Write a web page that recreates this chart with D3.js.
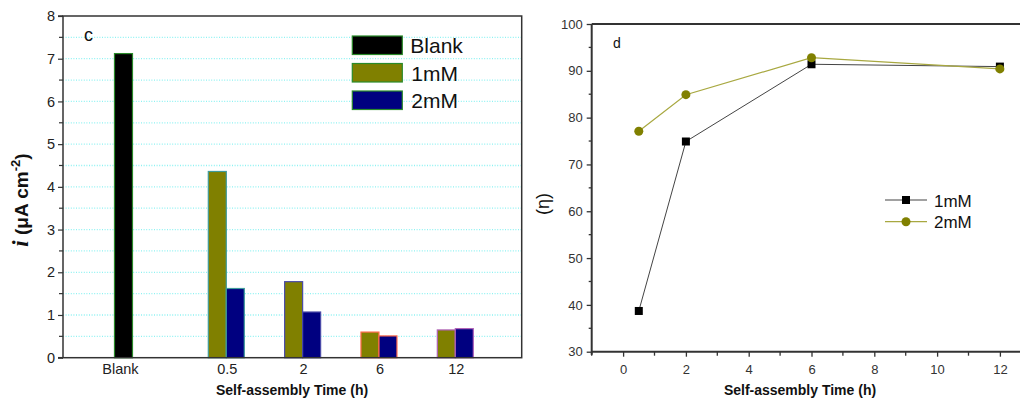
<!DOCTYPE html>
<html>
<head>
<meta charset="utf-8">
<script src="https://cdn.jsdelivr.net/npm/d3@7"></script>
<style>
  body { margin: 0; background: #fff; }
  svg { display: block; font-family: "Liberation Sans", Arial, sans-serif; }
</style>
</head>
<body>
<svg id="chart" width="1020" height="398"></svg>
<script>
// DATA
// ========================================================================
var groups = ["Blank", "0.5", "2", "6", "12"];
var blank_values = [7.12, null, null, null, null];
var mM1_values = [null, 4.36, 1.78, 0.60, 0.65];
var mM2_values = [null, 1.62, 1.07, 0.51, 0.68];
var bar_legend = ["Blank", "1mM", "2mM"];

var hours = [0.5, 2, 6, 12];
var eta_1mM = [38.7, 74.9, 91.4, 90.9];
var eta_2mM = [77.1, 84.9, 92.8, 90.4];
var line_legend = ["1mM", "2mM"];
// ========================================================================

var svg = d3.select("#chart");
var axis_color = "#333";
var olive = "#808000", navy = "#000080";
// border colours of each bar group, as drawn in the original
var group_stroke = ["#2a8a2a", "#3f9b9b", "#4a4aa8", "#ff6a4a", "#b060b8"];

// ---------------- left panel (c) ----------------
var L = {left: 63, right: 521.7, top: 16, bottom: 357.7};
var yL = d3.scaleLinear().domain([0, 8]).range([L.bottom, L.top]);
// groups 0.5..12 are evenly spaced, Blank sits a bit further out
var blank_gap = 1.36;
var xSlot = d3.scaleLinear().domain([0, 3]).range([226.3, 455.3]);
function groupX(i) { return i === 0 ? xSlot(-blank_gap) : xSlot(i - 1); }
var barW = 18;

var left = svg.append("g");

// dotted cyan grid at every 0.5
left.append("g").selectAll("line")
  .data(d3.range(0.5, 8, 0.5)).enter().append("line")
    .attr("x1", L.left).attr("x2", L.right)
    .attr("y1", function(d) { return yL(d); }).attr("y2", function(d) { return yL(d); })
    .style("stroke", "#8ef2f2").style("stroke-width", 1.3)
    .style("stroke-dasharray", "1,1.6");

function bars(values, fill, offset) {
  left.append("g").selectAll("rect")
    .data(values.map(function(v, i) { return {v: v, i: i}; }).filter(function(d) { return d.v != null; }))
    .enter().append("rect")
      .attr("x", function(d) { return groupX(d.i) + offset; })
      .attr("y", function(d) { return yL(d.v); })
      .attr("width", barW)
      .attr("height", function(d) { return yL(0) - yL(d.v); })
      .style("fill", fill)
      .style("stroke", function(d) { return group_stroke[d.i]; })
      .style("stroke-width", 1.2);
}
bars(blank_values, "#000", -barW / 2 + 1);
bars(mM1_values, olive, -barW);
bars(mM2_values, navy, 0);

// frame
left.append("rect")
  .attr("x", L.left).attr("y", L.top)
  .attr("width", L.right - L.left).attr("height", L.bottom - L.top)
  .style("fill", "none").style("stroke", axis_color).style("stroke-width", 1.5);

var yAxisL = d3.axisLeft(yL).ticks(8).tickSize(8).tickPadding(4).tickFormat(d3.format("d"));
var gyL = left.append("g").attr("transform", "translate(" + (L.left - 5) + ",0)").call(yAxisL);
gyL.select(".domain").remove();
left.append("line").attr("x1", L.left - 5).attr("x2", L.left).attr("y1", L.bottom).attr("y2", L.bottom)
  .style("stroke", axis_color).style("stroke-width", 1.5);
left.append("line").attr("x1", L.left - 5).attr("x2", L.left).attr("y1", L.top).attr("y2", L.top)
  .style("stroke", axis_color).style("stroke-width", 1.5);
gyL.selectAll(".tick line").attr("x1", 0).attr("x2", 5).style("stroke", axis_color).style("stroke-width", 1.2);
gyL.selectAll(".tick text").attr("x", -3).style("font-size", "14.5px").style("fill", "#222")
  .style("font-family", "Liberation Sans, Arial, sans-serif");
// minor ticks
left.append("g").selectAll("line").data(d3.range(0.5, 8, 1)).enter().append("line")
  .attr("x1", L.left - 4).attr("x2", L.left)
  .attr("y1", function(d) { return yL(d); }).attr("y2", function(d) { return yL(d); })
  .style("stroke", axis_color).style("stroke-width", 1.2);

// x tick labels
left.append("g").selectAll("text").data(groups).enter().append("text")
  .attr("x", function(d, i) { return groupX(i) + (i === 0 ? -2 : 1); })
  .attr("y", 374)
  .attr("text-anchor", "middle")
  .style("font-size", "14.5px").style("fill", "#222")
  .text(function(d) { return d; });

left.append("text").attr("x", 292).attr("y", 395).attr("text-anchor", "middle")
  .style("font-size", "14px").style("font-weight", "bold").style("fill", "#111")
  .text("Self-assembly Time (h)");

var ylab = left.append("text")
  .attr("transform", "translate(28,200) rotate(-90)")
  .attr("text-anchor", "middle")
  .style("font-size", "19px").style("font-weight", "bold").style("fill", "#111");
ylab.append("tspan").style("font-style", "italic").style("font-family", "Liberation Serif, Times New Roman, serif")
  .style("font-size", "23px").text("i");
ylab.append("tspan").text(" (μA cm");
ylab.append("tspan").attr("dy", -8).style("font-size", "13px").text("-2");
ylab.append("tspan").attr("dy", 8).text(")");

left.append("text").attr("x", 84).attr("y", 41).style("font-size", "18px").style("fill", "#111").text("c");

// legend
var bar_fills = ["#000", olive, navy];
var lg = left.append("g").selectAll("g").data(bar_legend).enter().append("g")
  .attr("transform", function(d, i) { return "translate(352.3," + (36 + i * 27.5) + ")"; });
lg.append("rect").attr("width", 50).attr("height", 18.5)
  .style("fill", function(d, i) { return bar_fills[i]; })
  .style("stroke", "#2a8a2a").style("stroke-width", 1.2);
lg.append("text").attr("x", function(d, i) { return i === 0 ? 58 : 59; }).attr("y", 17)
  .style("font-size", "21px").style("fill", "#111")
  .text(function(d) { return d; });

// ---------------- right panel (d) ----------------
var R = {left: 591.7, top: 24, bottom: 351.7};
var xR = d3.scaleLinear().domain([-1, 13]).range([R.left, R.left + 14 * 31.4]);
var yR = d3.scaleLinear().domain([30, 100]).range([R.bottom, R.top]);
var right = svg.append("g");

right.append("line").attr("x1", R.left).attr("x2", 1020).attr("y1", R.top).attr("y2", R.top)
  .style("stroke", axis_color).style("stroke-width", 2);

var gxR = right.append("g").attr("transform", "translate(0," + R.bottom + ")")
  .call(d3.axisBottom(xR).tickValues(d3.range(0, 13, 2)).tickSize(5).tickPadding(8));
gxR.select(".domain").remove();
right.append("line").attr("x1", R.left).attr("x2", 1020).attr("y1", R.bottom).attr("y2", R.bottom)
  .style("stroke", axis_color).style("stroke-width", 2);
gxR.selectAll(".tick line").style("stroke", axis_color).style("stroke-width", 1.3);
gxR.selectAll(".tick text").style("font-size", "13px").style("fill", "#333")
  .style("font-family", "Liberation Sans, Arial, sans-serif");
right.append("g").selectAll("line").data(d3.range(-1, 13, 2)).enter().append("line")
  .attr("x1", function(d) { return xR(d); }).attr("x2", function(d) { return xR(d); })
  .attr("y1", R.bottom).attr("y2", R.bottom + 4)
  .style("stroke", axis_color).style("stroke-width", 1.3);

var gyR = right.append("g").attr("transform", "translate(" + R.left + ",0)")
  .call(d3.axisLeft(yR).tickValues(d3.range(30, 101, 10)).tickSize(5).tickPadding(4));
gyR.select(".domain").remove();
right.append("line").attr("x1", R.left).attr("x2", R.left).attr("y1", R.top).attr("y2", R.bottom + 3)
  .style("stroke", axis_color).style("stroke-width", 2);
gyR.selectAll(".tick line").style("stroke", axis_color).style("stroke-width", 1.3);
gyR.selectAll(".tick text").style("font-size", "13px").style("fill", "#333")
  .style("font-family", "Liberation Sans, Arial, sans-serif");
right.append("g").selectAll("line").data(d3.range(35, 100, 10)).enter().append("line")
  .attr("x1", R.left - 3).attr("x2", R.left)
  .attr("y1", function(d) { return yR(d); }).attr("y2", function(d) { return yR(d); })
  .style("stroke", axis_color).style("stroke-width", 1.3);

var line = d3.line().x(function(d) { return xR(d[0]); }).y(function(d) { return yR(d[1]); });
var s1 = d3.zip(hours, eta_1mM), s2 = d3.zip(hours, eta_2mM);

right.append("path").datum(s1).attr("d", line)
  .style("fill", "none").style("stroke", "#444").style("stroke-width", 1);
right.append("path").datum(s2).attr("d", line)
  .style("fill", "none").style("stroke", "#a8a840").style("stroke-width", 1.2);
right.append("g").selectAll("rect").data(s1).enter().append("rect")
  .attr("x", function(d) { return xR(d[0]) - 4; }).attr("y", function(d) { return yR(d[1]) - 4; })
  .attr("width", 8).attr("height", 8).style("fill", "#000");
right.append("g").selectAll("circle").data(s2).enter().append("circle")
  .attr("cx", function(d) { return xR(d[0]); }).attr("cy", function(d) { return yR(d[1]); })
  .attr("r", 4.5).style("fill", olive);

right.append("text").attr("x", 613).attr("y", 48).style("font-size", "14px").style("fill", "#111").text("d");

right.append("text").attr("x", 800).attr("y", 395).attr("text-anchor", "middle")
  .style("font-size", "14px").style("font-weight", "bold").style("fill", "#111")
  .text("Self-assembly Time (h)");
right.append("text").attr("transform", "translate(549,204) rotate(-90)").attr("text-anchor", "middle")
  .style("font-size", "18px").style("fill", "#111").text("(η)");

// legend
var lgr = right.append("g").selectAll("g").data(line_legend).enter().append("g")
  .attr("transform", function(d, i) { return "translate(885," + (200 + i * 21.7) + ")"; });
lgr.append("line").attr("x1", 0).attr("x2", 42)
  .style("stroke", function(d, i) { return i === 0 ? "#444" : "#a8a840"; }).style("stroke-width", 1.2);
lgr.filter(function(d, i) { return i === 0; }).append("rect")
  .attr("x", 17).attr("y", -4).attr("width", 8).attr("height", 8).style("fill", "#000");
lgr.filter(function(d, i) { return i === 1; }).append("circle")
  .attr("cx", 21).attr("r", 4.5).style("fill", olive);
lgr.append("text").attr("x", 49).attr("y", 6.5)
  .style("font-size", "17px").style("fill", "#111").text(function(d) { return d; });
</script>
</body>
</html>
